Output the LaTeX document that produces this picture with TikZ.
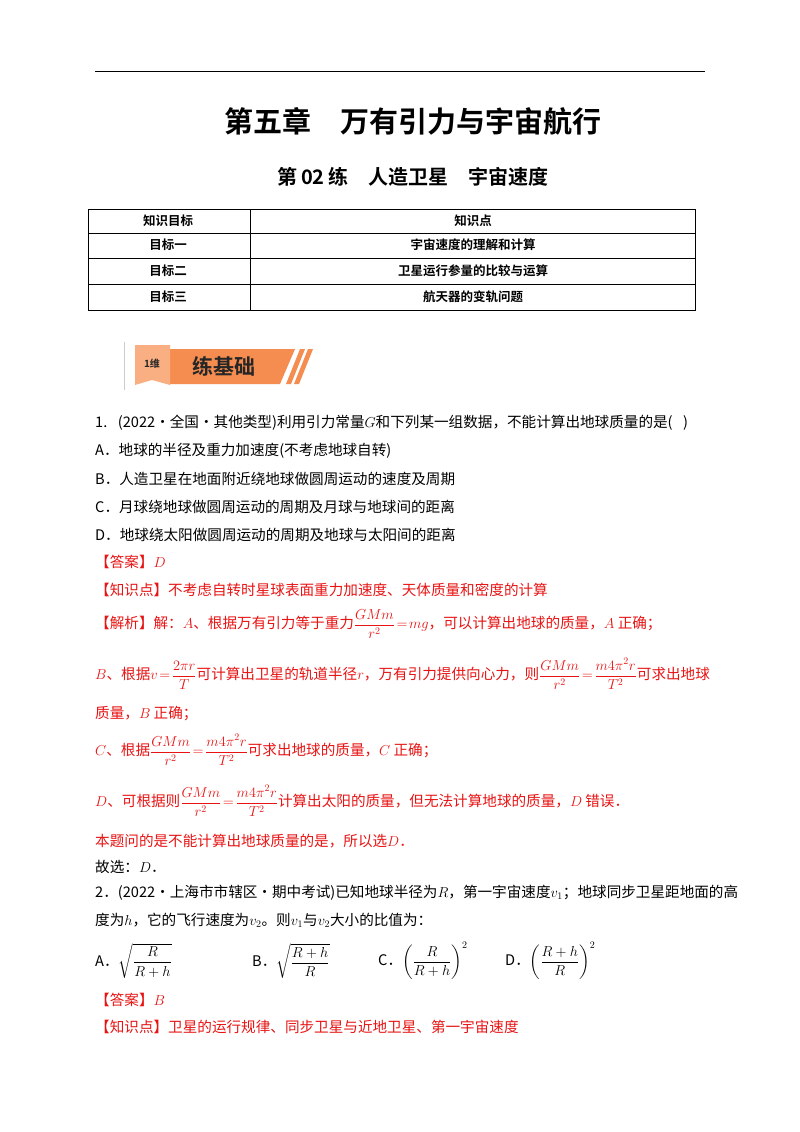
\documentclass[tikz,border=0pt]{standalone}
\usepackage{fontspec}
\usepackage{amsmath}
\newfontfamily\cjk{Noto Sans CJK SC}
\newfontfamily\cjkb{Noto Sans CJK SC Bold}
\definecolor{ansred}{RGB}{232,20,20}
\definecolor{banor}{RGB}{245,140,80}
\definecolor{banlt}{RGB}{250,175,130}
\begin{document}
\begin{tikzpicture}[x=1pt,y=-1pt,
  body/.style={anchor=west,inner sep=0pt,font=\cjk\fontsize{14.6}{16}\selectfont},
  redt/.style={body,text=ansred},
  th/.style={inner sep=0pt,font=\cjkb\fontsize{12.5}{14}\selectfont}]
\useasboundingbox (0,0) rectangle (800,1132);
\fill[white] (0,0) rectangle (800,1132);
\draw[line width=1pt] (95,72) -- (705,72);
\node[font=\cjkb\fontsize{29}{32}\selectfont] (t1) at (413,121) {第五章\quad 万有引力与宇宙航行};
\node[font=\cjkb\fontsize{20}{24}\selectfont] (t2) at (413,177) {第\,02\,练\quad 人造卫星\quad 宇宙速度};
% table
\draw[line width=0.6pt] (88,209) rectangle (695,310);
\foreach \yy in {233,258,284} \draw[line width=0.6pt] (88,\yy) -- (695,\yy);
\draw[line width=0.6pt] (250,209) -- (250,310);
\node[th] (h1) at (168,221) {知识目标};
\node[th] (h2) at (473,221) {知识点};
\node[th] (r1a) at (168,245) {目标一};
\node[th] (r1b) at (473,245) {宇宙速度的理解和计算};
\node[th] (r2a) at (168,271) {目标二};
\node[th] (r2b) at (473,271) {卫星运行参量的比较与运算};
\node[th] (r3a) at (168,297) {目标三};
\node[th] (r3b) at (473,297) {航天器的变轨问题};
% banner
\draw[gray!40,line width=1pt] (124,342) -- (124,390);
\fill[banor] (170,349) -- (295,349) -- (280,384) -- (170,384) -- cycle;
\fill[banor] (286,384) -- (300,349) -- (305,349) -- (291,384) -- cycle;
\fill[banor] (294,384) -- (308,349) -- (313,349) -- (299,384) -- cycle;
\fill[banlt] (135,345) -- (170,345) -- (170,385) -- (152,380) -- (135,385) -- cycle;
\node[font=\cjkb\fontsize{10}{11}\selectfont,text=black!85] (bn1) at (152,364) {1维};
\node[font=\cjkb\fontsize{21}{24}\selectfont,text=black!85] (bn2) at (224,366) {练基础};
% Q1
\node[body] (q1) at (95,423) {1.\enspace\ (2022·全国·其他类型)利用引力常量$G$和下列某一组数据，不能计算出地球质量的是(\enspace\ )};
\node[body] (qa) at (95,451) {A．地球的半径及重力加速度(不考虑地球自转)};
\node[body] (qb) at (95,479) {B．人造卫星在地面附近绕地球做圆周运动的速度及周期};
\node[body] (qc) at (95,507) {C．月球绕地球做圆周运动的周期及月球与地球间的距离};
\node[body] (qd) at (95,535) {D．地球绕太阳做圆周运动的周期及地球与太阳间的距离};
\node[redt] (ans1) at (95,562) {【答案】$D$};
\node[redt] (kp1) at (95,590) {【知识点】不考虑自转时星球表面重力加速度、天体质量和密度的计算};
\node[redt] (ex1) at (95,624) {【解析】解：$A$、根据万有引力等于重力$\dfrac{GMm}{r^2}\!=\!mg$，可以计算出地球的质量，$A$ 正确；};
\node[redt] (ex2) at (95,674) {$B$、根据$v\!=\!\dfrac{2\pi r}{T}$可计算出卫星的轨道半径$r$，万有引力提供向心力，则$\dfrac{GMm}{r^2}\!=\!\dfrac{m4\pi^2r}{T^2}$可求出地球};
\node[redt] (ex3) at (95,714) {质量，$B$ 正确；};
\node[redt] (ex4) at (95,750) {$C$、根据$\dfrac{GMm}{r^2}\!=\!\dfrac{m4\pi^2r}{T^2}$可求出地球的质量，$C$ 正确；};
\node[redt] (ex5) at (95,801) {$D$、可根据则$\dfrac{GMm}{r^2}\!=\!\dfrac{m4\pi^2r}{T^2}$计算出太阳的质量，但无法计算地球的质量，$D$ 错误．};
\node[redt] (ex6) at (95,841) {本题问的是不能计算出地球质量的是，所以选$D$．};
\node[body] (ex7) at (95,867) {故选：$D$．};
% Q2
\node[body] (q2) at (95,893) {2．(2022·上海市市辖区·期中考试)已知地球半径为$R$，第一宇宙速度$v_1$；地球同步卫星距地面的高};
\node[body] (q2b) at (95,920) {度为$h$，它的飞行速度为$v_2$。则$v_1$与$v_2$大小的比值为：};
\node[body] (o1) at (95,961) {A．$\sqrt{\dfrac{R}{R+h}}$};
\node[body] (o2) at (252,961) {B．$\sqrt{\dfrac{R+h}{R}}$};
\node[body] (o3) at (378,961) {C．$\left(\dfrac{R}{R+h}\right)^{2}$};
\node[body] (o4) at (505,961) {D．$\left(\dfrac{R+h}{R}\right)^{2}$};
\node[redt] (ans2) at (95,1000) {【答案】$B$};
\node[redt] (kp2) at (95,1027) {【知识点】卫星的运行规律、同步卫星与近地卫星、第一宇宙速度};
\end{tikzpicture}
\end{document}
